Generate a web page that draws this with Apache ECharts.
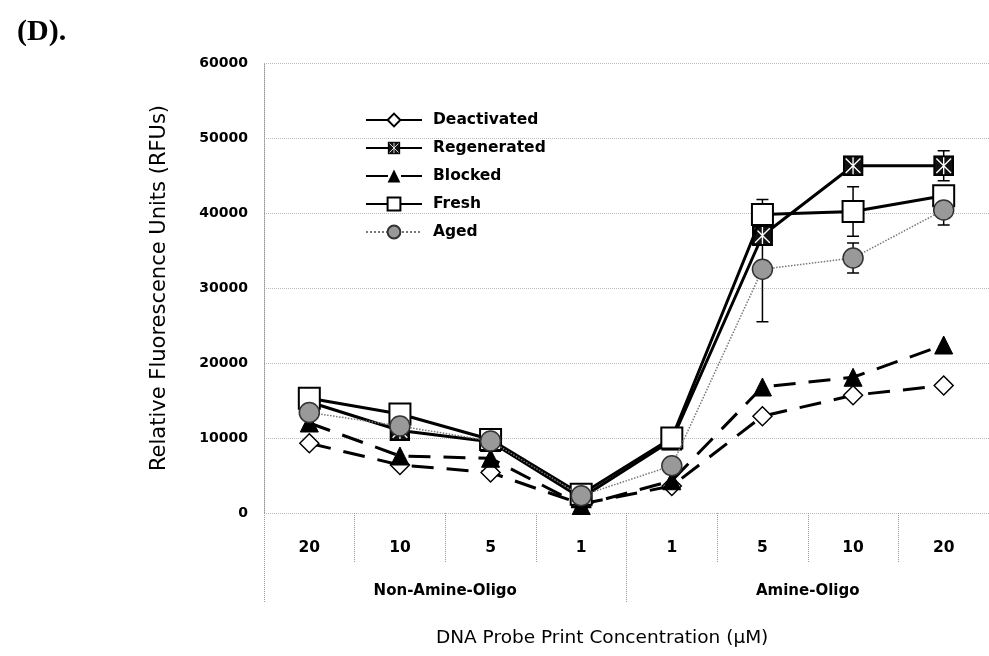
<!DOCTYPE html>
<html>
<head>
<meta charset="utf-8">
<script src="https://cdn.jsdelivr.net/npm/echarts@6/dist/echarts.min.js"></script>
<style>
  html, body { margin: 0; padding: 0; background: #fff; }
  #main { width: 989px; height: 656px; }
</style>
</head>
<body>
<div id="main"></div>
<script>
// categories (print concentration, uM) and the two probe groups
var categories = ['20', '10', '5', '1', '1', '5', '10', '20'];
var groups = ['Non-Amine-Oligo', 'Amine-Oligo'];

// series values (RFUs)
var deactivated = [9300, 6400, 5400, 1200, 3600, 12900, 15700, 17000];
var regenerated = [14800, 11000, 9500, 2000, 9700, 37000, 46300, 46300];
var blocked = [12000, 7600, 7300, 1000, 4300, 16800, 18100, 22400];
var fresh = [15300, 13200, 9800, 2500, 10000, 39800, 40200, 42300];
var aged = [13400, 11600, 9600, 2300, 6300, 32500, 34000, 40400];

// error bars (+/-)
var regeneratedErr = [0, 0, 0, 0, 0, 0, 0, 2000];
var freshErr = [0, 0, 0, 0, 0, 2000, 3300, 0];
var agedErr = [0, 0, 0, 0, 0, 7000, 2000, 2000];

var FONT = 'DejaVu Sans';

// black square with white cross for "Regenerated"
var regenSvg = "<svg xmlns='http://www.w3.org/2000/svg' width='20' height='20'>" +
    "<rect x='1' y='1' width='18' height='18' fill='#111' stroke='#000' stroke-width='2'/>" +
    "<path d='M3 3L17 17M17 3L3 17M10 2V18' stroke='#fff' stroke-width='1.3'/></svg>";
var regenSymbol = 'image://data:image/svg+xml;charset=utf-8,' + encodeURIComponent(regenSvg);

function errData(vals, errs) {
    var out = [];
    vals.forEach(function (v, i) {
        if (errs[i] > 0) out.push([i, v - errs[i], v + errs[i]]);
    });
    return out;
}

var chart = echarts.init(document.getElementById('main'));

var option = {
    backgroundColor: '#fff',
    animation: false,
    title: {
        text: '(D).',
        left: 12,
        top: 12,
        textStyle: { fontFamily: 'Liberation Serif', fontWeight: 'bold', fontSize: 30, color: '#000' }
    },
    graphic: [{
        type: 'text',
        left: 436,
        top: 629,
        style: { text: 'DNA Probe Print Concentration (\u03bcM)', font: '18.5px "DejaVu Sans"', fill: '#000' }
    }],
    legend: {
        orient: 'vertical',
        left: 360,
        top: 107,
        itemWidth: 56,
        itemHeight: 16,
        itemGap: 12,
        data: ['Deactivated', 'Regenerated', 'Blocked', 'Fresh', 'Aged'],
        textStyle: { fontFamily: FONT, fontWeight: 'bold', fontSize: 15.5, color: '#000', padding: [0, 0, 0, 6] }
    },
    grid: {
        left: 264,
        top: 63,
        width: 736,
        height: 450
    },
    xAxis: [{
        type: 'category',
        data: categories,
        boundaryGap: true,
        axisLine: { show: false },
        axisTick: { show: true, length: 50, lineStyle: { color: '#999', type: 'dotted' } },
        axisLabel: { margin: 27, color: '#000', fontFamily: FONT, fontWeight: 'bold', fontSize: 15.5 },
        splitLine: { show: false }
    }, {
        type: 'category',
        data: groups,
        position: 'bottom',
        gridIndex: 0,
        boundaryGap: true,
        axisLine: { show: false },
        axisTick: { show: true, length: 90, lineStyle: { color: '#999', type: 'dotted' } },
        axisLabel: { margin: 71, color: '#000', fontFamily: FONT, fontWeight: 'bold', fontSize: 15 },
        splitLine: { show: false }
    }],
    yAxis: {
        type: 'value',
        min: 0,
        max: 60000,
        interval: 10000,
        name: 'Relative Fluorescence Units (RFUs)',
        nameLocation: 'middle',
        nameGap: 94,
        nameTextStyle: { fontFamily: FONT, fontSize: 21, color: '#000' },
        axisLine: { show: true, lineStyle: { color: '#999', type: 'dotted' } },
        axisTick: { show: false },
        axisLabel: {
            margin: 16, color: '#000', fontFamily: FONT, fontWeight: 'bold', fontSize: 14,
            formatter: function (v) { return String(v); }
        },
        splitLine: { lineStyle: { color: '#bbb', type: 'dotted' } }
    },
    series: [{
        name: 'Deactivated',
        type: 'line',
        data: deactivated,
        symbol: 'diamond',
        symbolSize: 19,
        lineStyle: { color: '#000', width: 3, type: [22, 13] },
        itemStyle: { color: '#fff', borderColor: '#000', borderWidth: 1.5 },
        z: 2
    }, {
        name: 'Regenerated',
        type: 'line',
        data: regenerated,
        symbol: regenSymbol,
        symbolSize: 21,
        lineStyle: { color: '#000', width: 3 },
        itemStyle: { color: '#000' },
        z: 3
    }, {
        name: 'Blocked',
        type: 'line',
        data: blocked,
        symbol: 'triangle',
        symbolSize: 18,
        lineStyle: { color: '#000', width: 3, type: [22, 13] },
        itemStyle: { color: '#000', borderColor: '#000' },
        z: 4
    }, {
        name: 'Fresh',
        type: 'line',
        data: fresh,
        symbol: 'rect',
        symbolSize: 21,
        lineStyle: { color: '#000', width: 3 },
        itemStyle: { color: '#fff', borderColor: '#000', borderWidth: 2 },
        z: 5
    }, {
        name: 'Aged',
        type: 'line',
        data: aged,
        symbol: 'circle',
        symbolSize: 20,
        lineStyle: { color: '#777', width: 1.5, type: 'dotted' },
        itemStyle: { color: '#999', borderColor: '#333', borderWidth: 1.5 },
        z: 6
    }, {
        name: 'errorbars',
        type: 'custom',
        data: errData(regenerated, regeneratedErr)
            .concat(errData(fresh, freshErr))
            .concat(errData(aged, agedErr)),
        encode: { x: 0, y: [1, 2] },
        z: 1,
        silent: true,
        renderItem: function (params, api) {
            var x = api.value(0);
            var lo = api.coord([x, api.value(1)]);
            var hi = api.coord([x, api.value(2)]);
            var half = 6;
            var style = { stroke: '#000', lineWidth: 1.5 };
            return {
                type: 'group',
                children: [
                    { type: 'line', shape: { x1: lo[0], y1: lo[1], x2: hi[0], y2: hi[1] }, style: style },
                    { type: 'line', shape: { x1: lo[0] - half, y1: lo[1], x2: lo[0] + half, y2: lo[1] }, style: style },
                    { type: 'line', shape: { x1: hi[0] - half, y1: hi[1], x2: hi[0] + half, y2: hi[1] }, style: style }
                ]
            };
        }
    }]
};

chart.setOption(option);
</script>
</body>
</html>
